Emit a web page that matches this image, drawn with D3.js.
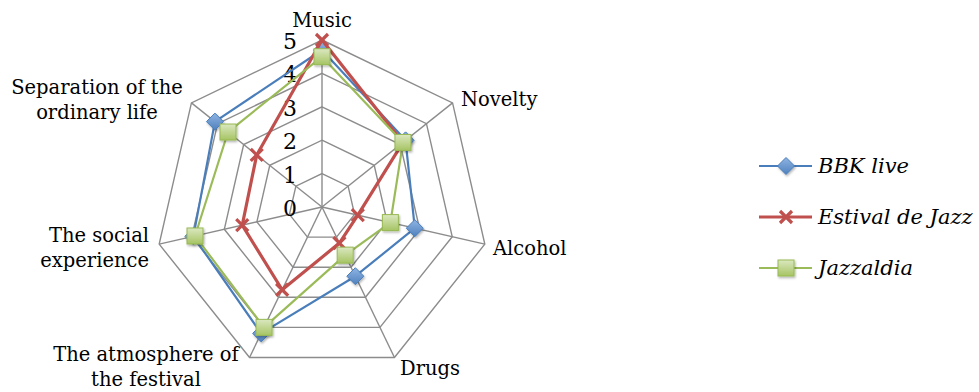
<!DOCTYPE html>
<html><head><meta charset="utf-8">
<script src="https://cdn.jsdelivr.net/npm/d3@7"></script>
<style>body{margin:0;background:#fff}svg{display:block}</style>
</head><body>
<svg id="c" width="979" height="392"></svg>
<script>
const axes = ["Music","Novelty","Alcohol","Drugs","The atmosphere of the festival","The social experience","Separation of the ordinary life"];
const axisLabelLines = [["Music"],["Novelty"],["Alcohol"],["Drugs"],["The atmosphere of","the festival"],["The social","experience"],["Separation of the","ordinary life"]];
const seriesNames = ["BBK live","Estival de Jazz","Jazzaldia"];
const bbkLive = [4.7, 3.2, 2.85, 2.3, 4.2, 3.95, 4.1];
const estivalDeJazz = [5.0, 3.1, 1.1, 1.2, 2.75, 2.45, 2.5];
const jazzaldia = [4.5, 3.1, 2.1, 1.6, 4.0, 3.9, 3.6];
const tickValues = [0,1,2,3,4,5];

const svg = d3.select("#c");
const cx = 322, cy = 207;
const r = d3.scaleLinear().domain([0,5]).range([0,167]);
const ang = d3.scaleLinear().domain([0, axes.length]).range([0, 2*Math.PI]);
const pt = (i, v) => [cx + r(v)*Math.sin(ang(i)), cy - r(v)*Math.cos(ang(i))];

const defs = svg.append("defs");
const g1 = defs.append("linearGradient").attr("id","gsq").attr("x1","0").attr("y1","0").attr("x2","0").attr("y2","1");
g1.append("stop").attr("offset","0").attr("stop-color","#dbe8c0");
g1.append("stop").attr("offset","1").attr("stop-color","#a6c463");
const g2 = defs.append("linearGradient").attr("id","gdi").attr("x1","0").attr("y1","0").attr("x2","0").attr("y2","1");
g2.append("stop").attr("offset","0").attr("stop-color","#8fb4e3");
g2.append("stop").attr("offset","1").attr("stop-color","#4f81bd");
const sh = defs.append("filter").attr("id","sh").attr("x","-50%").attr("y","-50%").attr("width","200%").attr("height","200%");
sh.append("feDropShadow").attr("dx",1).attr("dy",1.5).attr("stdDeviation",1).attr("flood-color","#000").attr("flood-opacity",0.3);

// grid
const grid = svg.append("g").attr("stroke","#8c8c8c").attr("stroke-width",1.4).attr("fill","none");
tickValues.filter(v=>v>0).forEach(v=>{
  grid.append("path").attr("d", d3.line()(d3.range(axes.length).map(i=>pt(i,v))) + "Z");
});
axes.forEach((a,i)=>{
  grid.append("line").attr("x1",cx).attr("y1",cy).attr("x2",pt(i,5)[0]).attr("y2",pt(i,5)[1]);
});

// tick labels
svg.append("g").selectAll("text").data(tickValues).join("text")
  .attr("x",297).attr("y",v=>cy - r(v) + 9)
  .attr("text-anchor","end").attr("font-family","DejaVu Serif").attr("font-size",22)
  .text(d=>d);

// axis labels
const labelPos = [
  {x:322, y:27, anchor:"middle"},
  {x:461, y:106, anchor:"start"},
  {x:493, y:255, anchor:"start"},
  {x:400, y:375, anchor:"start"},
  {x:146, y:361, anchor:"middle"},
  {x:149, y:242, anchor:"end"},
  {x:97, y:94, anchor:"middle"}
];
const lg = svg.append("g").attr("font-family","DejaVu Serif").attr("font-size",19.5).attr("fill","#000");
axisLabelLines.forEach((lines,i)=>{
  const t = lg.append("text").attr("x",labelPos[i].x).attr("y",labelPos[i].y).attr("text-anchor",labelPos[i].anchor);
  lines.forEach((l,j)=>t.append("tspan").attr("x",labelPos[i].x).attr("dy", j?25:0).text(l));
});

const colors = ["#4a7ebb","#c0504d","#9bbb59"];
const widths = [2.2, 3.2, 2.2];
const data = [bbkLive, estivalDeJazz, jazzaldia];

function marker(sel, k, x, y) {
  if (k===0) {
    sel.append("path").attr("d",`M${x},${y-8.5}L${x+8.5},${y}L${x},${y+8.5}L${x-8.5},${y}Z`)
      .attr("fill","url(#gdi)").attr("stroke","#4a7ebb").attr("stroke-width",1).attr("filter","url(#sh)");
  } else if (k===1) {
    sel.append("path").attr("d",`M${x-6},${y-6}L${x+6},${y+6}M${x+6},${y-6}L${x-6},${y+6}`)
      .attr("stroke","#c0504d").attr("stroke-width",3.2).attr("fill","none");
  } else {
    sel.append("rect").attr("x",x-8).attr("y",y-8).attr("width",16).attr("height",16)
      .attr("fill","url(#gsq)").attr("stroke","#98b954").attr("stroke-width",1).attr("filter","url(#sh)");
  }
}

const line = d3.line().curve(d3.curveLinearClosed);
data.forEach((vals,k)=>{
  const g = svg.append("g");
  g.append("path").attr("d", line(vals.map((v,i)=>pt(i,v))))
    .attr("fill","none").attr("stroke",colors[k]).attr("stroke-width",widths[k]).attr("stroke-linejoin","round");
  vals.forEach((v,i)=>{ const p = pt(i,v); marker(g,k,p[0],p[1]); });
});

// legend
const leg = svg.append("g");
const ly = d3.scalePoint().domain(seriesNames).range([166,268]);
seriesNames.forEach((n,k)=>{
  const y = ly(n);
  leg.append("line").attr("x1",759).attr("x2",812).attr("y1",y).attr("y2",y).attr("stroke",colors[k]).attr("stroke-width",widths[k]);
  marker(leg,k,786,y);
  leg.append("text").attr("x",818).attr("y",y+7).attr("font-family","DejaVu Serif").attr("font-style","italic").attr("font-size",21).text(n);
});
</script>
</body></html>
